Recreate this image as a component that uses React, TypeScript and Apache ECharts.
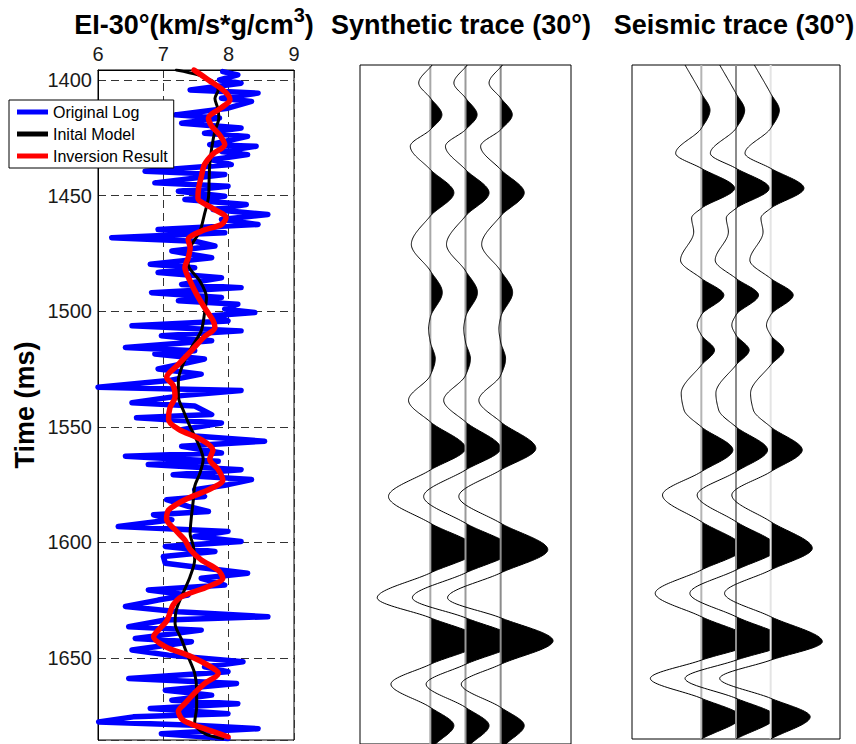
import React, { useEffect, useRef } from 'react';
import * as echarts from 'echarts';

const FONT = "'Liberation Sans', Arial, Helvetica, sans-serif";

// ---- Left panel: EI-30° logs ----
const legendNames = ['Original Log', 'Inital Model', 'Inversion Result'];
const eiAxisMin = 6;
const eiAxisMax = 9;
const timeTop = 1395.7;
const timeBottom = 1685.4;

const blueTime = [
  1396.4, 1397.8, 1400, 1401.4, 1404.3, 1405.7, 1407.9, 1409.3, 1412.2, 1415.1, 1416.5, 1418.7, 1420.8, 1423.0,
  1424.4, 1428.0, 1428.7, 1430.9, 1432.3, 1434.5, 1436.6, 1439.5, 1440.9, 1443.1, 1444.5, 1446.0, 1448.1, 1450.3,
  1451.7, 1453.9, 1456.0, 1458.2, 1460.3, 1462.5, 1464.7, 1466.1, 1468.2, 1469.7, 1471.8, 1474.0, 1476.9, 1479.7,
  1481.2, 1483.3, 1485.5, 1488.4, 1489.8, 1492.0, 1494.1, 1495.5, 1497.0, 1499.1, 1500.6, 1502.0, 1504.2, 1506.3,
  1508.5, 1510.6, 1512.8, 1515.7, 1517.1, 1518.5, 1520.7, 1522.8, 1525.0, 1527.2, 1530.0, 1532.9, 1534.3, 1536.5,
  1539.6, 1541.0, 1544.7, 1546.1, 1548.3, 1551.2, 1554.0, 1556.2, 1558.4, 1561.3, 1562.7, 1564.9, 1566.3, 1568.5,
  1570.7, 1572.8, 1575.0, 1577.2, 1580.1, 1581.5, 1584.4, 1586.6, 1588.0, 1590.2, 1593.1, 1595.2, 1597.4, 1599.6,
  1601.7, 1603.9, 1606.1, 1609.0, 1610.4, 1613.3, 1615.5, 1618.4, 1620.5, 1622.7, 1624.9, 1627.7, 1629.9, 1632.1,
  1633.5, 1636.4, 1637.9, 1641.5, 1642.9, 1646.5, 1648.7, 1651.6, 1653.8, 1655.9, 1658.8, 1661.0, 1663.9, 1666.0,
  1668.2, 1669.7, 1671.8, 1674.0, 1675.4, 1677.6, 1679.0, 1680.5, 1682.7, 1684.8,
];
const blueValue = [
  7.91, 8.14, 7.86, 8.19, 7.41, 8.45, 7.89, 8.35, 7.99, 7.18, 7.86, 7.28, 8.19, 7.63,
  8.29, 7.71, 8.42, 7.89, 8.29, 7.74, 8.04, 6.72, 7.94, 7.28, 6.87, 7.99, 7.23, 7.94,
  7.33, 8.27, 7.76, 8.6, 7.89, 8.45, 6.92, 7.94, 6.21, 7.48, 7.79, 7.13, 7.74, 6.8,
  7.48, 6.92, 7.89, 7.28, 8.19, 6.82, 7.89, 7.23, 8.14, 7.94, 8.4, 7.74, 7.99, 6.52,
  8.19, 6.97, 7.74, 6.42, 7.48, 6.87, 7.63, 7.28, 6.92, 7.58, 7.08, 6.0, 8.19, 7.28,
  6.52, 7.48, 7.74, 6.59, 7.89, 7.28, 7.48, 8.55, 7.28, 7.89, 6.42, 7.84, 6.77, 8.19,
  7.15, 8.35, 7.99, 7.48, 7.63, 7.05, 7.38, 7.69, 6.85, 7.13, 6.31, 7.99, 7.48, 8.19,
  7.03, 7.79, 7.0, 7.03, 7.43, 8.29, 7.58, 7.94, 6.77, 7.38, 6.92, 6.42, 7.23, 8.6,
  7.03, 6.47, 7.58, 6.57, 7.43, 6.52, 7.08, 8.22, 7.63, 7.99, 6.47, 8.12, 7.03, 7.74,
  7.13, 8.14, 6.8, 7.99, 6.54, 6.01, 7.48, 8.45, 6.97, 7.99,
];

const modelTime = [
  1395.7, 1397.8, 1400.7, 1404.3, 1408, 1412, 1416.5, 1422, 1429.5, 1436.6, 1443.8, 1451, 1458, 1465.4, 1472.6,
  1479.7, 1487, 1494, 1501, 1508.5, 1515.7, 1523, 1530, 1537, 1542.5, 1550, 1557, 1564, 1570, 1575.7, 1581.5,
  1588.7, 1596, 1601.7, 1607.5, 1614.7, 1622, 1629, 1635, 1642, 1649.4, 1656.6, 1664, 1671, 1678, 1682.6, 1684.8,
];
const modelValue = [
  7.2, 7.53, 7.76, 7.84, 7.79, 7.83, 7.85, 7.79, 7.74, 7.71, 7.7, 7.69, 7.63, 7.56, 7.41,
  7.38, 7.56, 7.66, 7.63, 7.58, 7.43, 7.3, 7.23, 7.23, 7.3, 7.41, 7.53, 7.61, 7.56, 7.48, 7.46,
  7.43, 7.41, 7.46, 7.48, 7.41, 7.3, 7.2, 7.18, 7.28, 7.38, 7.48, 7.51, 7.51, 7.48, 7.63, 7.91,
];

const invTime = [
  1395.7, 1400, 1405, 1408.6, 1412, 1416.5, 1420, 1423.7, 1428, 1432, 1436.6, 1442, 1446.7, 1451, 1455.3,
  1459.6, 1462.5, 1465.4, 1469, 1472.6, 1477, 1481, 1487, 1492.7, 1498.4, 1504, 1507, 1511, 1517, 1523,
  1528.6, 1532, 1537, 1541.8, 1546.8, 1551, 1555.5, 1560, 1564, 1568.5, 1573, 1577, 1581.5, 1586, 1590,
  1594.5, 1599, 1603, 1607.5, 1612, 1615.5, 1619, 1623.4, 1627, 1630.6, 1634, 1638, 1640.8, 1645, 1649.4,
  1654, 1656.6, 1661, 1665, 1669.6, 1673, 1677, 1680.5, 1684,
];
const invValue = [
  7.47, 7.69, 7.94, 8.02, 7.89, 7.69, 7.74, 7.86, 7.94, 7.76, 7.63, 7.58, 7.54, 7.53, 7.74,
  7.96, 7.89, 7.58, 7.38, 7.41, 7.38, 7.33, 7.41, 7.51, 7.63, 7.76, 7.79, 7.63, 7.43, 7.23,
  7.05, 7.15, 7.18, 7.1, 7.08, 7.23, 7.58, 7.76, 7.71, 7.84, 7.91, 7.71, 7.33, 7.08, 7.05,
  7.18, 7.33, 7.41, 7.58, 7.84, 7.91, 7.69, 7.28, 7.15, 7.1, 7.05, 6.92, 6.85, 7.03, 7.43,
  7.74, 7.84, 7.63, 7.48, 7.33, 7.23, 7.31, 7.63, 7.99,
];

// ---- Trace panels (amplitude in trace-spacing units, time in ms) ----
const traceBaselines = [1, 2, 3];
const traceAxisMin = -1;
const traceAxisMax = 5;

const synTop = 1393.5;
const synBottom = 1688.4;
const synTime = [
  1393.5, 1401.3, 1407.8, 1415.1, 1421.6, 1428.8, 1438.9, 1449.0, 1459.1, 1471.4, 1482.9, 1492.3, 1503.1, 1508.1,
  1513.8, 1521.1, 1528.3, 1539.1, 1548.5, 1560.0, 1569.4, 1580.9, 1592.5, 1604.0, 1614.1, 1624.9, 1633.6, 1643.6,
  1653.8, 1662.4, 1672.5, 1680.4, 1688.4,
];
const synAmp = [
  0.05, -0.33, 0, 0.33, 0, -0.57, 0, 0.67, 0, -0.54, 0, 0.34, 0, -0.05,
  0, 0.14, 0, -0.62, 0, 1.0, 0, -1.19, 0, 1.34, 0, -1.51, 0, 1.49,
  0, -1.12, 0, 0.67, 0.15,
];

const seisTop = 1393.5;
const seisBottom = 1685.0;
const seisTime = [
  1393.5, 1405.8, 1413.0, 1420.9, 1431.7, 1438.2, 1446.8, 1455.5, 1459.7, 1465.7, 1477.9, 1485.8, 1493.0, 1501.6,
  1506.0, 1510.3, 1516.8, 1523.3, 1535.5, 1542.7, 1550.0, 1560.0, 1569.4, 1579.5, 1591.0, 1602.5, 1611.9, 1622.0,
  1632.1, 1642.9, 1650.9, 1658.8, 1667.4, 1675.4, 1685.0,
];
const seisAmp = [
  -0.47, 0, 0.25, 0, -0.74, 0, 0.96, 0, -0.28, -0.22, -0.6, 0, 0.65, 0,
  -0.12, 0, 0.38, 0, -0.58, -0.5, 0, 0.91, 0, -1.12, 0, 1.2, 0, -1.33,
  0, 1.49, 0, -1.47, 0, 1.14, 0,
];

const synBaselineColors = ['#a8a8a8', '#999999', '#8c8c8c'];
const seisBaselineColors = ['#b4b4b4', '#8c8c8c', '#e4e4e4'];

// monotone cubic (Fritsch-Butland) resampling for drawing a smooth curve through the read knots
function smoothCurve(times: number[], amps: number[], step = 0.4): number[][] {
  const n = times.length;
  const h: number[] = [];
  const d: number[] = [];
  for (let k = 0; k < n - 1; k++) {
    h[k] = times[k + 1] - times[k];
    d[k] = (amps[k + 1] - amps[k]) / h[k];
  }
  const m: number[] = new Array(n).fill(0);
  m[0] = d[0];
  m[n - 1] = d[n - 2];
  for (let k = 1; k < n - 1; k++) {
    if (d[k - 1] * d[k] <= 0) m[k] = 0;
    else {
      const w1 = 2 * h[k] + h[k - 1];
      const w2 = h[k] + 2 * h[k - 1];
      m[k] = (w1 + w2) / (w1 / d[k - 1] + w2 / d[k]);
    }
  }
  const out: number[][] = [];
  for (let k = 0; k < n - 1; k++) {
    const steps = Math.max(2, Math.ceil(h[k] / step));
    for (let j = 0; j < steps; j++) {
      const s = j / steps;
      const s2 = s * s;
      const s3 = s2 * s;
      const v =
        (2 * s3 - 3 * s2 + 1) * amps[k] +
        (s3 - 2 * s2 + s) * h[k] * m[k] +
        (-2 * s3 + 3 * s2) * amps[k + 1] +
        (s3 - s2) * h[k] * m[k + 1];
      out.push([times[k] + s * h[k], v]);
    }
  }
  out.push([times[n - 1], amps[n - 1]]);
  return out;
}

function traceSeries(axisIndex: number, times: number[], amps: number[], tTop: number, tBottom: number, baseColors: string[]) {
  const dense = smoothCurve(times, amps);
  return {
    type: 'custom',
    xAxisIndex: axisIndex,
    yAxisIndex: axisIndex,
    clip: true,
    silent: true,
    encode: { x: 0, y: 1 },
    data: traceBaselines.map((b) => [b, tTop]),
    renderItem: (params: any, api: any) => {
      const b = traceBaselines[params.dataIndex];
      const curve = dense.map(([t, a]) => api.coord([b + a, t]));
      const fill = [api.coord([b, dense[0][0]])]
        .concat(dense.map(([t, a]) => api.coord([b + Math.max(a, 0), t])))
        .concat([api.coord([b, dense[dense.length - 1][0]])]);
      const p1 = api.coord([b, tTop]);
      const p2 = api.coord([b, tBottom]);
      return {
        type: 'group',
        children: [
          { type: 'polygon', shape: { points: fill }, style: { fill: '#000', stroke: 'none' } },
          {
            type: 'line',
            shape: { x1: p1[0], y1: p1[1], x2: p2[0], y2: p2[1] },
            style: { stroke: baseColors[params.dataIndex], lineWidth: 2 },
          },
          { type: 'polyline', shape: { points: curve }, style: { stroke: '#000', lineWidth: 1, fill: 'none' } },
        ],
      };
    },
  };
}

export default function App() {
  const ref = useRef<HTMLDivElement>(null);
  useEffect(() => {
    if (!ref.current) return;
    const chart = echarts.init(ref.current, undefined, { renderer: 'svg' });
    const dashed = { color: '#333', width: 1, type: [8, 5] as any };
    const option: any = {
      animation: false,
      backgroundColor: '#fff',
      textStyle: { fontFamily: FONT },
      grid: [
        { left: 98, top: 70, width: 196, height: 670, show: true, borderColor: '#000', borderWidth: 1 },
        { left: 360, top: 65, width: 211, height: 682, show: true, borderColor: '#000', borderWidth: 1 },
        { left: 632, top: 65, width: 208, height: 674, show: true, borderColor: '#000', borderWidth: 1 },
      ],
      xAxis: [
        {
          gridIndex: 0,
          type: 'value',
          position: 'top',
          min: eiAxisMin,
          max: eiAxisMax,
          interval: 1,
          axisLine: { show: true, lineStyle: { color: '#000' } },
          axisTick: { show: false },
          axisLabel: { fontSize: 20, color: '#1a1a1a', margin: 6, fontFamily: FONT },
          splitLine: { show: true, lineStyle: dashed },
        },
        { gridIndex: 1, type: 'value', min: traceAxisMin, max: traceAxisMax, show: false },
        { gridIndex: 2, type: 'value', min: traceAxisMin, max: traceAxisMax, show: false },
      ],
      yAxis: [
        {
          gridIndex: 0,
          type: 'value',
          inverse: true,
          min: timeTop,
          max: timeBottom,
          splitNumber: 5,
          name: 'Time (ms)',
          nameLocation: 'middle',
          nameGap: 60,
          nameTextStyle: { fontSize: 27, fontWeight: 'bold', color: '#000', fontFamily: FONT },
          axisLine: { show: true, lineStyle: { color: '#000' } },
          axisTick: { show: false },
          axisLabel: {
            fontSize: 20,
            color: '#1a1a1a',
            margin: 6,
            fontFamily: FONT,
            formatter: (v: number) => (Math.abs(v % 50) < 1e-6 ? String(v) : ''),
          },
          splitLine: { show: true, lineStyle: dashed },
        },
        { gridIndex: 1, type: 'value', inverse: true, min: synTop, max: synBottom, show: false },
        { gridIndex: 2, type: 'value', inverse: true, min: seisTop, max: seisBottom, show: false },
      ],
      legend: {
        data: legendNames,
        orient: 'vertical',
        left: 9,
        top: 100,
        icon: 'rect',
        itemWidth: 31,
        itemHeight: 5,
        itemGap: 6,
        padding: [4, 6, 4, 8],
        backgroundColor: '#fff',
        borderColor: '#000',
        borderWidth: 1,
        borderRadius: 0,
        selectedMode: false,
        textStyle: { fontSize: 16, color: '#000', fontFamily: FONT },
        z: 10,
      },
      graphic: [
        {
          type: 'text',
          x: 194,
          y: 25,
          style: {
            text: '{a|EI-30°(km/s*g/cm}{s|3}{a|)}',
            align: 'center',
            verticalAlign: 'middle',
            rich: {
              a: { fontSize: 27, fontWeight: 'bold', fontFamily: FONT, lineHeight: 41, fill: '#000' },
              s: { fontSize: 20, fontWeight: 'bold', fontFamily: FONT, lineHeight: 20, verticalAlign: 'top', fill: '#000' },
            },
          },
        },
        {
          type: 'text',
          x: 461,
          y: 25,
          style: { text: 'Synthetic trace (30°)', font: `bold 27px ${FONT}`, fill: '#000', align: 'center', verticalAlign: 'middle' },
        },
        {
          type: 'text',
          x: 734,
          y: 25,
          style: { text: 'Seismic trace (30°)', font: `bold 27px ${FONT}`, fill: '#000', align: 'center', verticalAlign: 'middle' },
        },
      ],
      series: [
        {
          name: legendNames[0],
          type: 'line',
          xAxisIndex: 0,
          yAxisIndex: 0,
          color: '#0000ff',
          symbol: 'none',
          data: blueTime.map((t, i) => [blueValue[i], t]),
          lineStyle: { color: '#0000ff', width: 5.5, cap: 'round', join: 'round' },
          z: 2,
        },
        {
          name: legendNames[1],
          type: 'line',
          xAxisIndex: 0,
          yAxisIndex: 0,
          color: '#000000',
          symbol: 'none',
          smooth: 0.3,
          data: modelTime.map((t, i) => [modelValue[i], t]),
          lineStyle: { color: '#000000', width: 3, cap: 'round', join: 'round' },
          z: 3,
        },
        {
          name: legendNames[2],
          type: 'line',
          xAxisIndex: 0,
          yAxisIndex: 0,
          color: '#ff0000',
          symbol: 'none',
          smooth: 0.3,
          data: invTime.map((t, i) => [invValue[i], t]),
          lineStyle: { color: '#ff0000', width: 5.5, cap: 'round', join: 'round' },
          z: 4,
        },
        traceSeries(1, synTime, synAmp, synTop, synBottom, synBaselineColors),
        traceSeries(2, seisTime, seisAmp, seisTop, seisBottom, seisBaselineColors),
      ],
    };
    chart.setOption(option);
    return () => chart.dispose();
  }, []);
  return (
    <div
      ref={ref}
      style={{ position: 'absolute', left: 0, top: 0, width: 856, height: 744, background: '#fff' }}
    />
  );
}
